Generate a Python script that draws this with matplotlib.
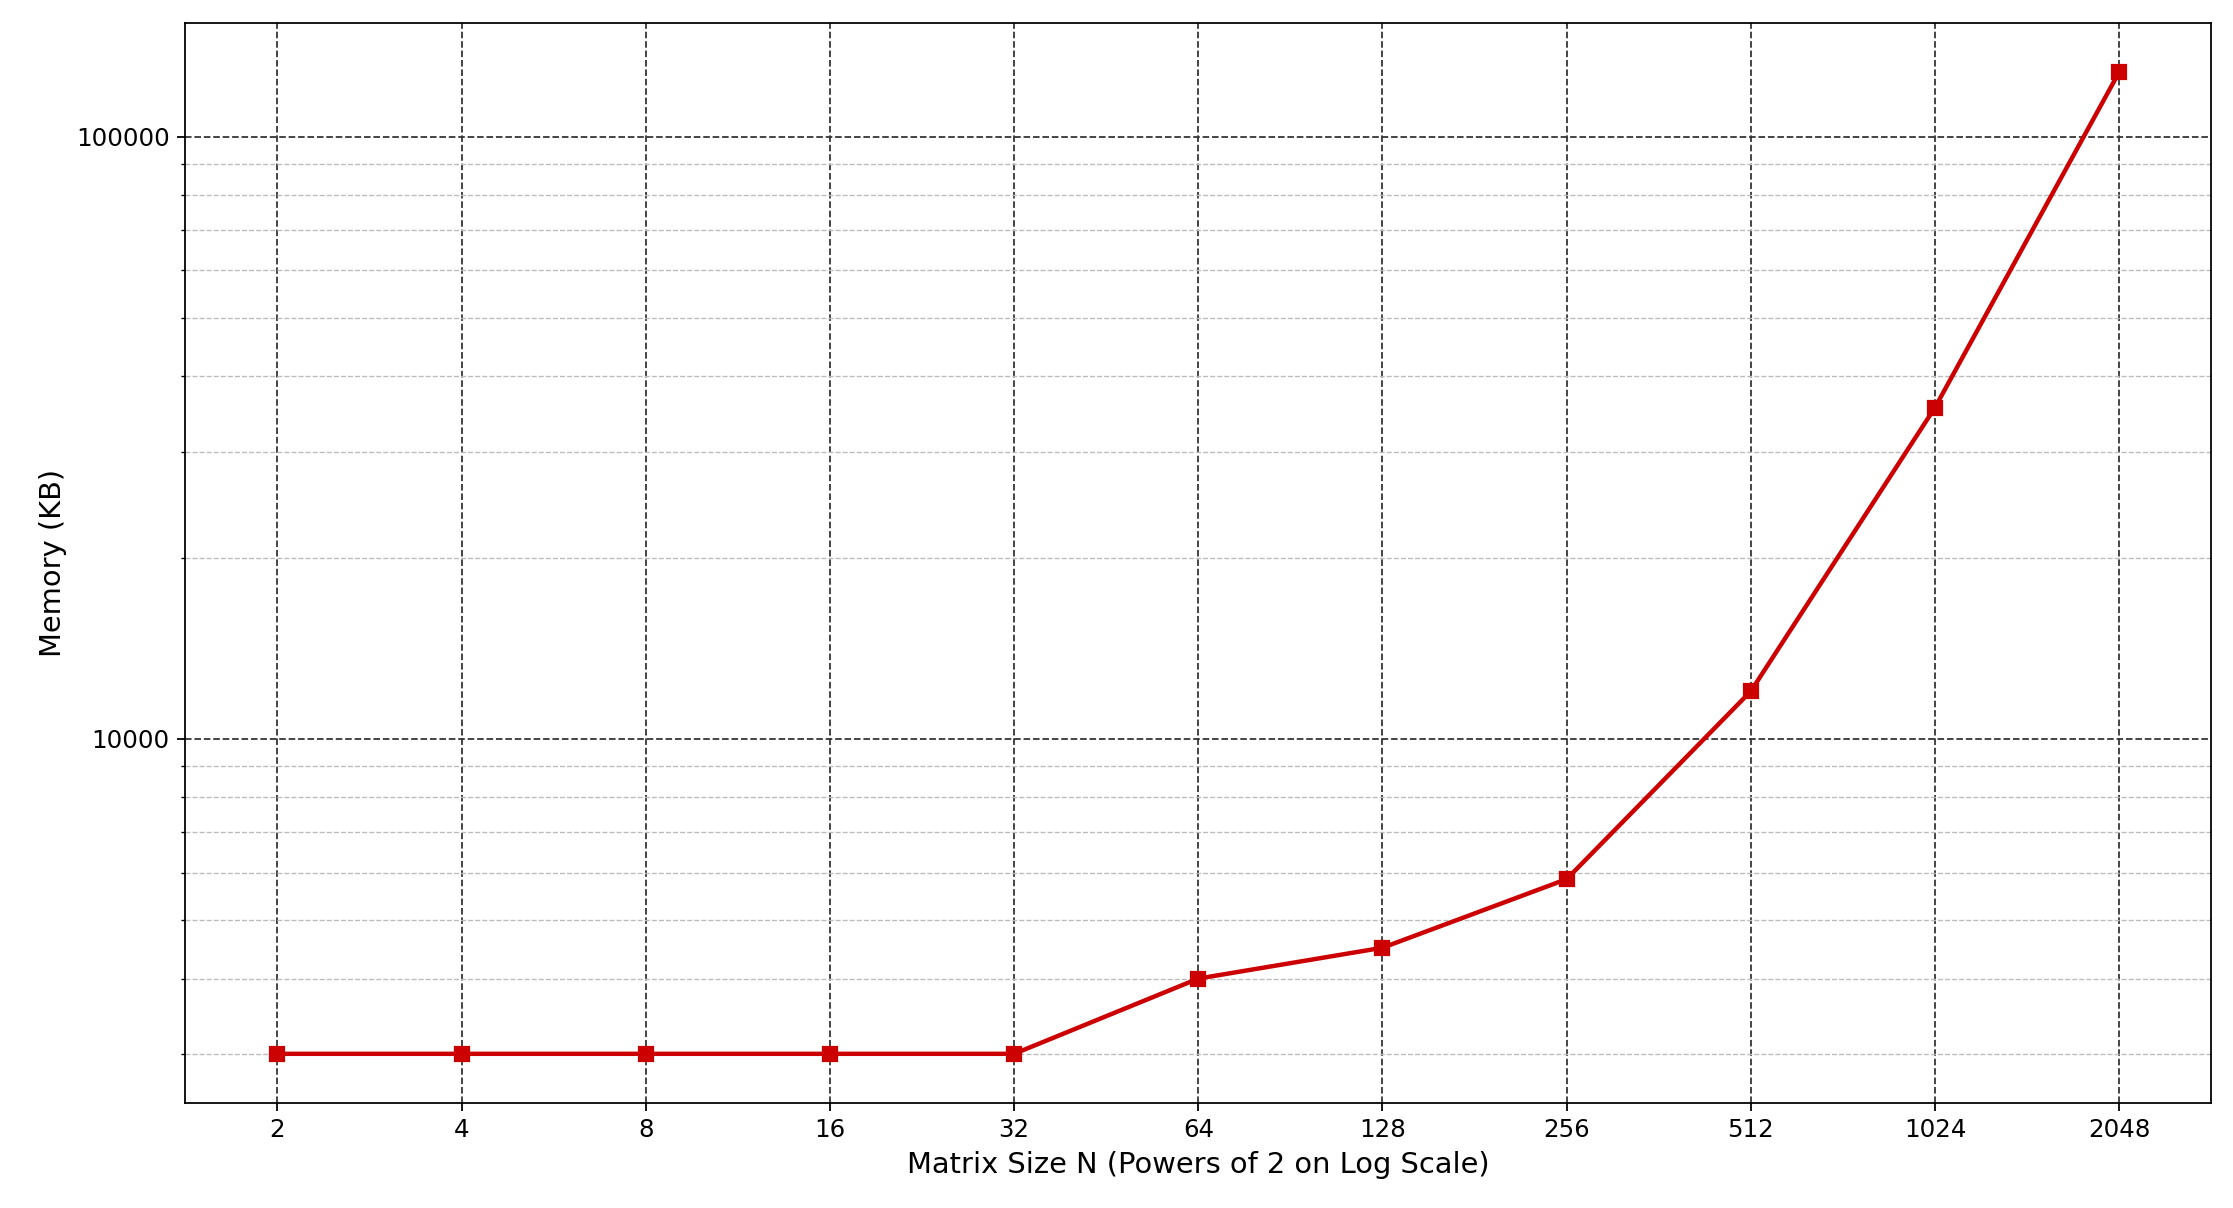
import matplotlib
matplotlib.use('Agg')
import matplotlib.pyplot as plt
from matplotlib.ticker import FixedLocator, FixedFormatter, LogLocator, NullFormatter

sizes = [2, 4, 8, 16, 32, 64, 128, 256, 512, 1024, 2048]
memory_kb = [3000, 3000, 3000, 3000, 3000, 4000, 4500, 5850, 12000, 35500, 128000]

fig, ax = plt.subplots(figsize=(13.96, 7.55), dpi=160)

ax.plot(sizes, memory_kb, marker='s', color='#cc0000', linewidth=2, markersize=6)

ax.set_xscale('log', base=2)
ax.set_yscale('log')
ax.xaxis.set_major_locator(FixedLocator(sizes))
ax.xaxis.set_major_formatter(FixedFormatter([str(s) for s in sizes]))
ax.xaxis.set_minor_locator(FixedLocator([]))
ax.yaxis.set_major_locator(LogLocator(base=10))
ax.yaxis.set_major_formatter(matplotlib.ticker.FuncFormatter(lambda v, p: f'{int(v)}'))
ax.yaxis.set_minor_formatter(NullFormatter())
ax.tick_params(labelsize=11)

ax.grid(True, which='major', linestyle='--', color='#333333', linewidth=0.8)
ax.grid(True, which='minor', axis='y', linestyle='--', color='#bbbbbb', linewidth=0.6)

ax.set_xlabel('Matrix Size N (Powers of 2 on Log Scale)', fontsize=13)
ax.set_ylabel('Memory (KB)', fontsize=13)

plt.subplots_adjust(left=0.083, right=0.99, top=0.981, bottom=0.087)
plt.savefig('out.png')
